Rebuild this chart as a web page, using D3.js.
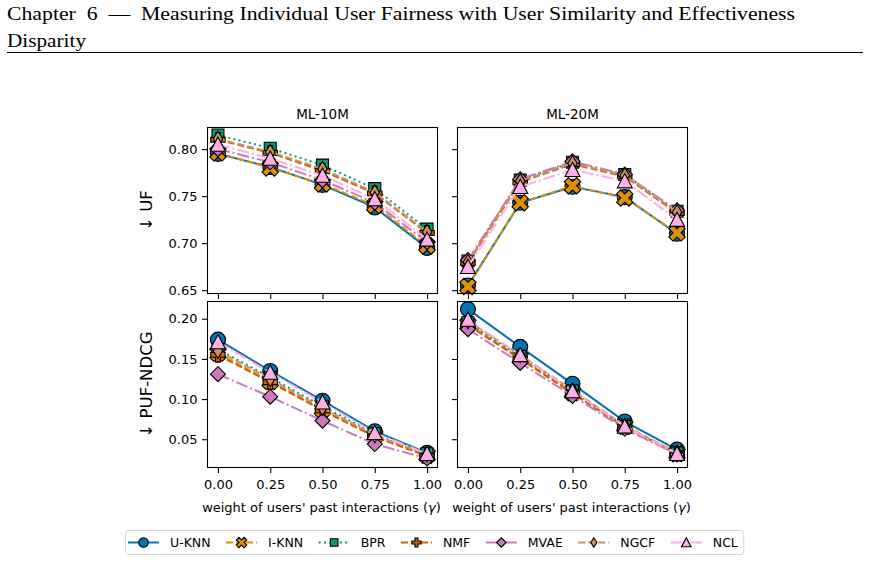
<!DOCTYPE html>
<html>

<head>
  <meta charset="utf-8">
  <title>UF and PUF-NDCG vs gamma</title>
  <script src="https://cdnjs.cloudflare.com/ajax/libs/d3/7.8.5/d3.min.js"></script>
  <style>
    body {
      margin: 0;
      background: #fff;
    }

    svg text {
      font-family: "DejaVu Sans", sans-serif;
      fill: #000;
    }

    .header {
      font-family: "Liberation Serif", "DejaVu Serif", serif !important;
      white-space: pre;
    }

    .tick line {
      stroke: #000;
    }
  </style>

  <script>
    /*
    Data
    */
    var gammas = [0, 0.25, 0.5, 0.75, 1.0];
    var models = ["U-KNN", "I-KNN", "BPR", "NMF", "MVAE", "NGCF", "NCL"];
    var datasets = ["ML-10M", "ML-20M"];
    var metricLabels = ["\u2193 UF", "\u2193 PUF-NDCG"];
    var ufTicks = [0.65, 0.70, 0.75, 0.80];
    var pufTicks = [0.05, 0.10, 0.15, 0.20];

    // rows follow the models order
    var ufML10M = [
      [0.795, 0.781, 0.762, 0.738, 0.695],
      [0.796, 0.780, 0.763, 0.740, 0.697],
      [0.815, 0.801, 0.783, 0.758, 0.715],
      [0.810, 0.796, 0.777, 0.753, 0.711],
      [0.800, 0.786, 0.767, 0.743, 0.701],
      [0.811, 0.797, 0.779, 0.754, 0.712],
      [0.805, 0.790, 0.772, 0.747, 0.704]
    ];
    var ufML20M = [
      [0.655, 0.743, 0.760, 0.749, 0.710],
      [0.654, 0.743, 0.761, 0.748, 0.711],
      [0.681, 0.767, 0.786, 0.773, 0.734],
      [0.679, 0.765, 0.784, 0.771, 0.732],
      [0.682, 0.768, 0.787, 0.773, 0.735],
      [0.680, 0.766, 0.785, 0.772, 0.733],
      [0.675, 0.760, 0.778, 0.766, 0.725]
    ];
    var pufML10M = [
      [0.174, 0.135, 0.098, 0.060, 0.033],
      [0.157, 0.122, 0.087, 0.054, 0.030],
      [0.162, 0.127, 0.091, 0.057, 0.032],
      [0.155, 0.121, 0.086, 0.053, 0.029],
      [0.131, 0.103, 0.073, 0.044, 0.026],
      [0.160, 0.125, 0.089, 0.055, 0.031],
      [0.171, 0.133, 0.096, 0.058, 0.032]
    ];
    var pufML20M = [
      [0.212, 0.165, 0.119, 0.072, 0.037],
      [0.193, 0.151, 0.108, 0.066, 0.032],
      [0.195, 0.153, 0.110, 0.066, 0.033],
      [0.192, 0.150, 0.107, 0.065, 0.032],
      [0.187, 0.145, 0.104, 0.063, 0.031],
      [0.197, 0.155, 0.111, 0.067, 0.033],
      [0.199, 0.155, 0.110, 0.066, 0.032]
    ];

    /*
    Layout / styles
    */
    var width = 870,
      height = 588,
      colX = [207.5, 457.5],
      rowY = [127.5, 301.5],
      panelW = 230,
      panelH = 166,
      markerSize = 15,
      legendMarkerSize = 9.5;

    var styles = {
      "U-KNN": { color: "#0173b2", dash: null, marker: "o" },
      "I-KNN": { color: "#de8f05", dash: "7,3", marker: "X" },
      "BPR": { color: "#029e73", dash: "2,3.3", marker: "s" },
      "NMF": { color: "#d55e00", dash: "7,3", marker: "P" },
      "MVAE": { color: "#cc78bc", dash: "12,3,2,3", marker: "D" },
      "NGCF": { color: "#ca9161", dash: "7,3", marker: "d" },
      "NCL": { color: "#fbafe4", dash: "12,3,2,3", marker: "^" }
    };

    /*
    Marker path helper (centered at 0,0)
    */
    function plusPoints(a) {
      var t = a / 3;
      return [[-a, -t], [-t, -t], [-t, -a], [t, -a], [t, -t], [a, -t],
      [a, t], [t, t], [t, a], [-t, a], [-t, t], [-a, t]];
    }

    function poly(pts) {
      return "M" + pts.map(function (p) { return p[0].toFixed(2) + "," + p[1].toFixed(2); }).join("L") + "Z";
    }

    function markerPath(type, m) {
      var h = m / 2;
      if (type === "o") {
        return d3.symbol(d3.symbolCircle, Math.PI * h * h)();
      }
      if (type === "s") {
        var s = 0.4 * m;
        return poly([[-s, -s], [s, -s], [s, s], [-s, s]]);
      }
      if (type === "P") {
        return poly(plusPoints(0.48 * m));
      }
      if (type === "X") {
        var c = Math.SQRT1_2;
        return poly(plusPoints(0.58 * m).map(function (p) {
          return [(p[0] - p[1]) * c, (p[0] + p[1]) * c];
        }));
      }
      if (type === "D") {
        return poly([[0, -h], [h, 0], [0, h], [-h, 0]]);
      }
      if (type === "d") {
        return poly([[0, -h], [0.32 * m, 0], [0, h], [-0.32 * m, 0]]);
      }
      if (type === "^") {
        return poly([[0, -0.5 * m], [0.5 * m, 0.45 * m], [-0.5 * m, 0.45 * m]]);
      }
    }

    /*
    Draw one panel
    */
    function drawPanel(svg, row, col, values, domain, ticks) {
      var x = d3.scaleLinear().domain([-0.05, 1.05]).range([0, panelW]);
      var y = d3.scaleLinear().domain(domain).range([panelH, 0]);

      var g = svg.append("g")
        .attr("transform", "translate(" + colX[col] + "," + rowY[row] + ")");

      var yAxis = d3.axisLeft(y).tickValues(ticks).tickSize(5.5).tickPadding(4.5)
        .tickFormat(col === 0 ? d3.format(".2f") : "");
      var xAxis = d3.axisBottom(x).tickValues(gammas).tickSize(5.5).tickPadding(6.5)
        .tickFormat(row === 1 ? d3.format(".2f") : "");

      var ya = g.append("g").call(yAxis);
      var xa = g.append("g").attr("transform", "translate(0," + panelH + ")").call(xAxis);
      [ya, xa].forEach(function (a) {
        a.select(".domain").remove();
        a.selectAll(".tick line").attr("stroke-width", 1.1);
        a.selectAll("text").attr("font-size", 13).attr("font-family", "DejaVu Sans");
      });

      var line = d3.line()
        .x(function (d, i) { return x(gammas[i]); })
        .y(function (d) { return y(d); });

      models.forEach(function (name, k) {
        var st = styles[name];
        g.append("path")
          .attr("d", line(values[k]))
          .attr("fill", "none")
          .attr("stroke", st.color)
          .attr("stroke-width", 2)
          .attr("stroke-dasharray", st.dash);

        g.selectAll(".m" + k)
          .data(values[k])
          .enter()
          .append("path")
          .attr("class", "m" + k)
          .attr("d", markerPath(st.marker, markerSize))
          .attr("transform", function (d, i) { return "translate(" + x(gammas[i]) + "," + y(d) + ")"; })
          .attr("fill", st.color)
          .attr("stroke", "#000")
          .attr("stroke-width", 1.1);
      });

      g.append("rect")
        .attr("width", panelW)
        .attr("height", panelH)
        .attr("fill", "none")
        .attr("stroke", "#000")
        .attr("stroke-width", 1.1);

      if (row === 0) {
        g.append("text")
          .attr("x", panelW / 2)
          .attr("y", -9)
          .attr("text-anchor", "middle")
          .attr("font-size", 13.5)
          .text(datasets[col]);
      }
      if (row === 1) {
        var xl = g.append("text")
          .attr("x", panelW / 2 - 1)
          .attr("y", panelH + 44)
          .attr("text-anchor", "middle")
          .attr("font-size", 13);
        xl.append("tspan").text("weight of users' past interactions (");
        xl.append("tspan").attr("font-style", "italic").text("\u03b3");
        xl.append("tspan").text(")");
      }
      if (col === 0) {
        g.append("text")
          .attr("transform", "translate(-56," + (panelH / 2) + ") rotate(-90)")
          .attr("text-anchor", "middle")
          .attr("font-size", 16.5)
          .text(metricLabels[row]);
      }
    }

    /*
    Legend
    */
    function drawLegend(svg) {
      var lg = svg.append("g");
      var box = lg.append("rect")
        .attr("x", 125.5).attr("y", 530.5)
        .attr("width", 620).attr("height", 24)
        .attr("rx", 3)
        .attr("fill", "#fff")
        .attr("stroke", "#d6d6d6");

      var cx = 128, cy = 542.5;
      models.forEach(function (name) {
        var st = styles[name];
        lg.append("line")
          .attr("x1", cx).attr("x2", cx + 31)
          .attr("y1", cy).attr("y2", cy)
          .attr("stroke", st.color)
          .attr("stroke-width", 2)
          .attr("stroke-dasharray", st.dash);
        lg.append("path")
          .attr("d", markerPath(st.marker, legendMarkerSize))
          .attr("transform", "translate(" + (cx + 15.5) + "," + cy + ")")
          .attr("fill", st.color)
          .attr("stroke", "#000")
          .attr("stroke-width", 1.1);
        var t = lg.append("text")
          .attr("x", cx + 42)
          .attr("y", cy + 4.5)
          .attr("font-size", 12.5)
          .text(name);
        cx = cx + 42 + t.node().getComputedTextLength() + 15.5;
      });
      box.attr("width", cx - 15.5 + 6 - 125.5);
    }

    /*
    Main draw
    */
    function draw() {
      var svg = d3.select("#canvas")
        .append("svg")
        .attr("width", width)
        .attr("height", height);

      svg.append("rect").attr("width", width).attr("height", height).attr("fill", "#fff");

      // page header of the thesis
      svg.append("text")
        .attr("class", "header")
        .attr("x", 7).attr("y", 20)
        .attr("font-size", 18)
        .attr("textLength", 788)
        .attr("lengthAdjust", "spacingAndGlyphs")
        .text("Chapter  6  \u2014  Measuring Individual User Fairness with User Similarity and Effectiveness");
      svg.append("text")
        .attr("class", "header")
        .attr("x", 7).attr("y", 47)
        .attr("font-size", 18)
        .attr("textLength", 79)
        .attr("lengthAdjust", "spacingAndGlyphs")
        .text("Disparity");
      svg.append("line")
        .attr("x1", 7).attr("x2", 863)
        .attr("y1", 52.5).attr("y2", 52.5)
        .attr("stroke", "#000")
        .attr("stroke-width", 1);

      drawPanel(svg, 0, 0, ufML10M, [0.6465, 0.823], ufTicks);
      drawPanel(svg, 0, 1, ufML20M, [0.6465, 0.823], ufTicks);
      drawPanel(svg, 1, 0, pufML10M, [0.0148, 0.2215], pufTicks);
      drawPanel(svg, 1, 1, pufML20M, [0.0148, 0.2215], pufTicks);

      drawLegend(svg);
    }
  </script>
</head>

<body>
  <div id="canvas"></div>
  <script>
    draw();
  </script>
</body>

</html>
